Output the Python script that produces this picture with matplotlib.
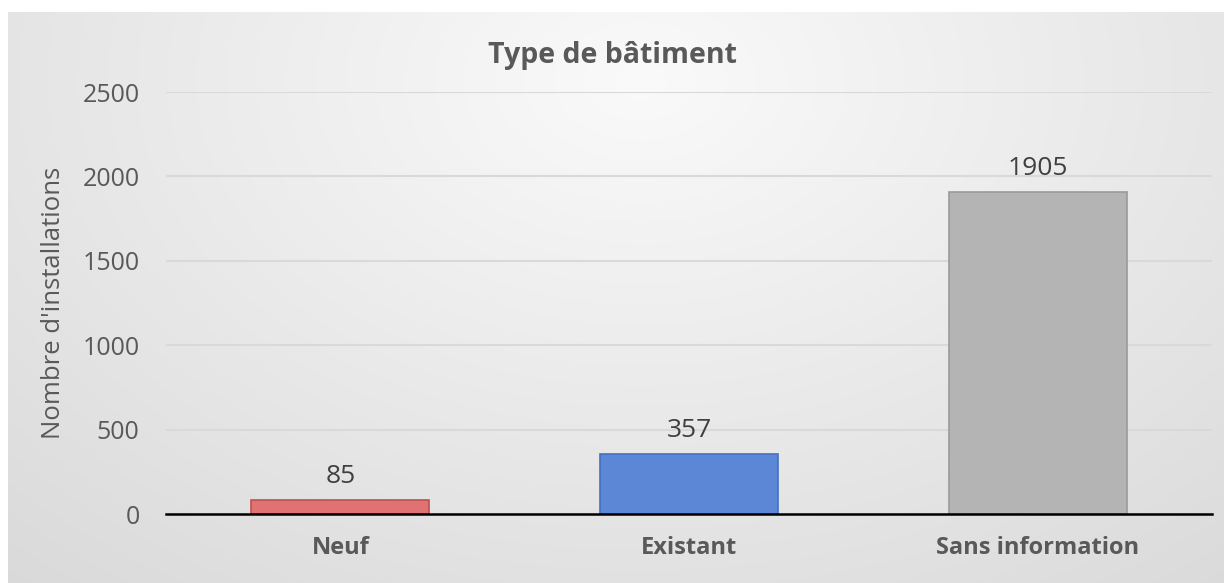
import matplotlib.pyplot as plt
import numpy as np

plt.rcParams['font.family'] = ['Open Sans', 'DejaVu Sans']

categories = ['Neuf', 'Existant', 'Sans information']
counts = [85, 357, 1905]
bar_colors = ['#e07272', '#5b87d6', '#b4b4b4']
edge_colors = ['#c05050', '#4470c0', '#9a9a9a']
y_ticks = [0, 500, 1000, 1500, 2000, 2500]

fig = plt.figure(figsize=(12.24, 5.83), dpi=100)
fig.patch.set_facecolor('white')

# chart area background: soft radial gradient like the Excel style
bg = fig.add_axes([8 / 1224, 0, 1 - 8 / 1224, 1 - 12 / 583])
yy, xx = np.mgrid[0:1:300j, 0:1:600j]
r = np.sqrt(((xx - 0.52) / 0.75) ** 2 + ((yy - 0.12) / 1.1) ** 2)
shade = 0.98 - 0.12 * np.clip(r, 0, 1.2)
bg.imshow(np.dstack([shade] * 3), aspect='auto', extent=[0, 1, 0, 1])
bg.set_axis_off()

ax = fig.add_axes([166 / 1224, 1 - 514 / 583, (1212 - 166) / 1224, (514 - 92) / 583])
ax.set_facecolor('none')

x = np.arange(len(categories))
bars = ax.bar(x, counts, width=0.51, color=bar_colors, edgecolor=edge_colors, linewidth=1.2, zorder=3)
for b, v in zip(bars, counts):
    ax.annotate(str(v), (b.get_x() + b.get_width() / 2, v), xytext=(0, 8), textcoords='offset points',
                ha='center', va='bottom', fontsize=19, color='#404040')

ax.set_xlim(-0.5, 2.5)
ax.set_ylim(0, 2500)
ax.set_yticks(y_ticks)
ax.set_xticks(x)
ax.set_xticklabels(categories, fontsize=17, fontweight='bold', color='#595959')
ax.tick_params(axis='y', labelsize=18, labelcolor='#595959', length=0, pad=19)
ax.tick_params(axis='x', length=0, pad=16)
ax.grid(axis='y', color='#d9d9d9', linewidth=1.5, zorder=0)
for s in ['top', 'right', 'left']:
    ax.spines[s].set_visible(False)
ax.spines['bottom'].set_color('black')
ax.spines['bottom'].set_linewidth(1.8)
ax.spines['bottom'].set_zorder(4)

ax.set_ylabel("Nombre d'installations", fontsize=18.5, color='#595959', labelpad=12)
fig.text(0.5, 1 - 55 / 583, 'Type de bâtiment', ha='center', va='center', fontsize=20.5,
         fontweight='bold', color='#595959')

fig.savefig('out.png', dpi=100)
